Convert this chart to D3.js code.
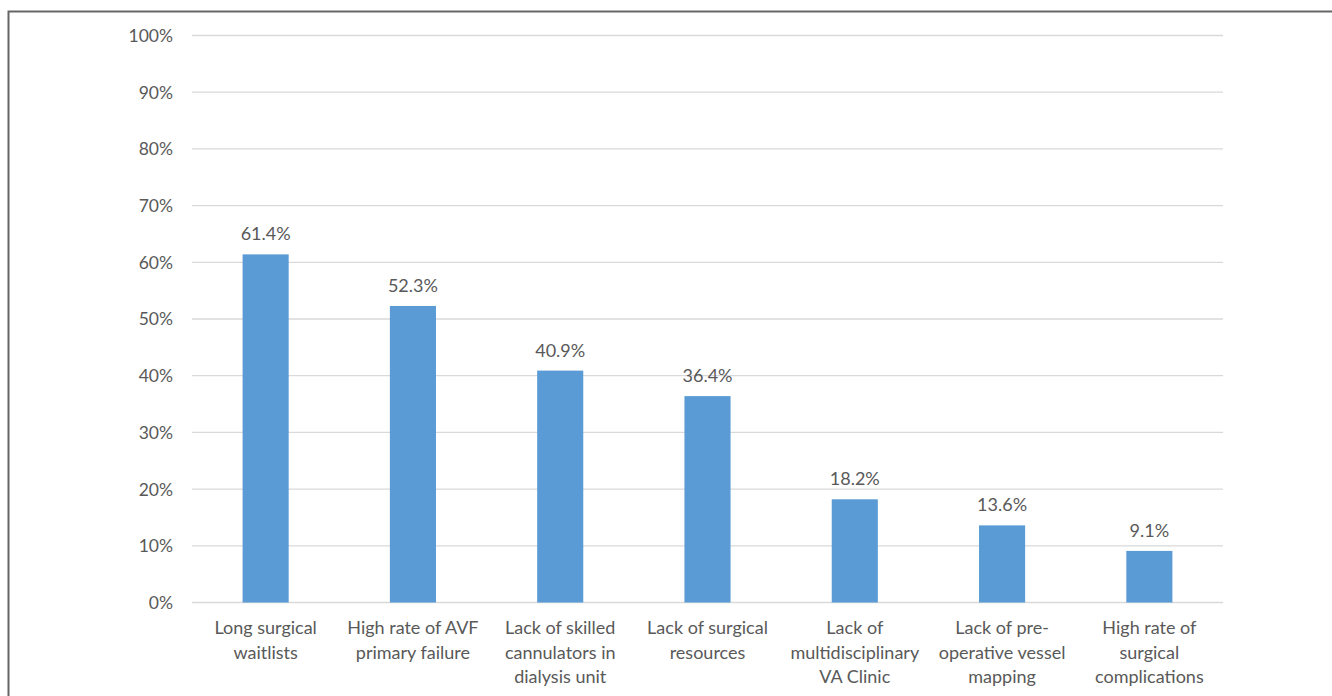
<!DOCTYPE html>
<html>
<head>
<meta charset="utf-8">
<script src="https://cdn.jsdelivr.net/npm/d3@7"></script>
<style>
  html, body { margin: 0; padding: 0; background: #fff; }
  svg text { font-family: Lato, "Open Sans", sans-serif; fill: #595959; }
</style>
</head>
<body>
<svg id="chart" width="1332" height="696"></svg>
<script>
// Barriers to vascular access creation (% of respondents)
const categories = [
  ["Long surgical", "waitlists"],
  ["High rate of AVF", "primary failure"],
  ["Lack of skilled", "cannulators in", "dialysis unit"],
  ["Lack of surgical", "resources"],
  ["Lack of", "multidisciplinary", "VA Clinic"],
  ["Lack of pre-", "operative vessel", "mapping"],
  ["High rate of", "surgical", "complications"]
];
const values = [61.4, 52.3, 40.9, 36.4, 18.2, 13.6, 9.1];
const yTicks = [0, 10, 20, 30, 40, 50, 60, 70, 80, 90, 100];

const svg = d3.select("#chart");

// outer frame
svg.append("rect")
  .attr("x", 8.5).attr("y", 11.5)
  .attr("width", 1340).attr("height", 700)
  .attr("fill", "none").attr("stroke", "#666").attr("stroke-width", 2);

const plot = { left: 192, right: 1223, top: 35.5, bottom: 602.5 };

const x = d3.scaleBand()
  .domain(d3.range(categories.length))
  .range([plot.left, plot.right])
  .padding(0);
const barW = x.bandwidth() * 0.313;

const y = d3.scaleLinear().domain([0, 100]).range([plot.bottom, plot.top]);

// gridlines
svg.append("g").selectAll("line").data(yTicks).join("line")
  .attr("x1", plot.left).attr("x2", plot.right)
  .attr("y1", d => y(d)).attr("y2", d => y(d))
  .attr("stroke", "#d9d9d9").attr("stroke-width", 1.3);

// y axis labels
const yAxis = d3.axisLeft(y).tickValues(yTicks).tickFormat(d => d + "%").tickSize(0).tickPadding(19);
const ya = svg.append("g").attr("transform", `translate(${plot.left},0)`).call(yAxis);
ya.select(".domain").remove();
ya.selectAll("text").style("font-size", "17.5px").attr("fill", "#595959").attr("dy", "0.34em");

// bars
svg.append("g").selectAll("rect").data(values).join("rect")
  .attr("x", (d, i) => x(i) + x.bandwidth() / 2 - barW / 2)
  .attr("y", d => y(d))
  .attr("width", barW)
  .attr("height", d => y(0) - y(d))
  .attr("fill", "#5b9bd5");

// value labels
svg.append("g").selectAll("text").data(values).join("text")
  .attr("x", (d, i) => x(i) + x.bandwidth() / 2)
  .attr("y", d => y(d) - 14)
  .attr("text-anchor", "middle")
  .style("font-size", "18px")
  .text(d => d.toFixed(1) + "%");

// category labels
const cat = svg.append("g").selectAll("text").data(categories).join("text")
  .attr("x", (d, i) => x(i) + x.bandwidth() / 2)
  .attr("y", 634)
  .attr("text-anchor", "middle")
  .style("font-size", "18px");
cat.selectAll("tspan").data(d => d).join("tspan")
  .attr("x", function () { return d3.select(this.parentNode).attr("x"); })
  .attr("dy", (d, j) => j === 0 ? 0 : 24.5)
  .text(d => d);
</script>
</body>
</html>
